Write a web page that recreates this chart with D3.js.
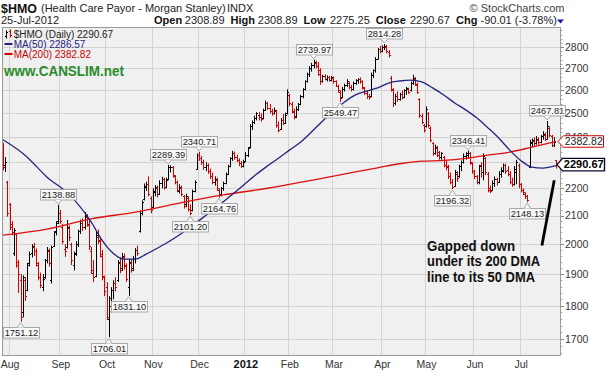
<!DOCTYPE html>
<html><head><meta charset="utf-8">
<script src="https://cdn.jsdelivr.net/npm/d3@7"></script>
<style>html,body{margin:0;padding:0;background:#fff;}svg{display:block;}</style>
</head><body><svg id="c" width="609" height="376"></svg>
<script>
// ---- Data (daily OHLC, 27-Jul-2011 .. 25-Jul-2012) ----
const opens = [
2370,2290,2225,2140,2070,1970,2035,1940,1880,1780,
1880,1850,1935,1970,1990,1975,1930,1890,1860,1890,
1945,1975,1880,1995,2045,2080,2110,2060,1985,1990,
2055,2000,1930,1970,2000,2045,2075,2060,2095,2065,
1975,1905,1895,2025,2010,1960,1890,1860,1760,1800,
1850,1870,1880,1935,1920,1955,1925,1860,1935,1920,
1950,1980,2045,2110,2160,2205,2215,2165,2130,2185,
2200,2180,2220,2235,2205,2235,2280,2280,2245,2225,
2190,2200,2170,2140,2165,2125,2120,2190,2275,2330,
2315,2300,2280,2290,2265,2245,2225,2230,2195,2180,
2200,2220,2255,2285,2315,2335,2320,2310,2295,2285,
2305,2330,2360,2445,2465,2480,2495,2485,2480,2515,
2545,2525,2510,2500,2510,2450,2435,2470,2460,2500,
2580,2540,2505,2490,2520,2540,2575,2605,2640,2675,
2700,2715,2725,2710,2690,2640,2665,2650,2660,2648,
2655,2640,2620,2595,2570,2605,2625,2635,2615,2605,
2635,2645,2650,2640,2610,2590,2575,2575,2670,2690,
2745,2790,2780,2800,2800,2775,2655,2600,2545,2575,
2560,2585,2570,2600,2605,2600,2635,2650,2625,2560,
2490,2450,2445,2500,2440,2375,2335,2355,2340,2320,
2320,2290,2285,2245,2225,2210,2255,2245,2285,2300,
2325,2330,2335,2295,2265,2245,2225,2290,2260,2315,
2255,2200,2195,2220,2235,2225,2255,2265,2290,2270,
2255,2225,2215,2260,2290,2215,2195,2180,2170,2280,
2375,2385,2375,2390,2380,2405,2410,2395,2440,2405,
2370,2308.89];
const highs = [
2378,2320,2228,2145,2080,2055,2038,1946,1900,1896,
1890,1937,1975,2000,2004,1985,1940,1905,1900,1950,
1990,1985,1995,2045,2080,2138.88,2120,2070,2000,2084,
2065,2004,1975,2010,2050,2085,2090,2113,2105,2085,
1990,1946,2043,2050,2025,1980,1895,1874,1830,1858,
1880,1890,1946,1956,1970,1968,1935,1950,1950,1960,
1986,1995,2118,2155,2218,2225,2245,2170,2200,2212,
2210,2230,2243,2240,2240,2289.39,2288,2285,2250,2230,
2215,2210,2175,2180,2170,2140,2195,2230,2335,2340.71,
2325,2310,2300,2295,2275,2260,2245,2240,2200,2205,
2225,2260,2290,2320,2345,2342,2330,2315,2305,2310,
2340,2360,2455,2470,2490,2505,2505,2500,2520,2555,
2550,2540,2520,2525,2515,2465,2480,2497,2503,2605,
2585,2550,2520,2530,2545,2580,2610,2645,2680,2710,
2725,2739.97,2735,2728,2700,2670,2672,2668,2665,2665,
2662,2645,2625,2600,2615,2630,2650,2640,2625,2640,
2650,2655,2658,2645,2615,2600,2585,2680,2695,2752,
2795,2805,2808,2814.28,2810,2785,2665,2610,2585,2595,
2590,2600,2605,2615,2612,2640,2670,2660,2635,2565,
2500,2455,2530,2505,2445,2380,2370,2365,2345,2340,
2325,2307,2290,2260,2235,2270,2265,2290,2307,2335,
2340,2346.41,2340,2300,2270,2250,2290,2300,2335,2320,
2262,2210,2230,2245,2240,2265,2280,2295,2295,2285,
2265,2240,2285,2310,2295,2220,2200,2185,2175,2390,
2395,2400,2405,2400,2410,2425,2420,2467.81,2445,2410,
2400,2308.89];
const lows = [
2268,2262,2096,2048,2030,1960,1921,1840,1751.12,1765,
1815,1845,1925,1955,1960,1925,1880,1855,1845,1885,
1935,1925,1870,1990,2030,2070,2070,2000,1957,1985,
2010,1930,1912,1960,1990,2035,2045,2050,2060,1980,
1900,1874,1890,2000,1955,1880,1830,1757,1706.01,1780,
1820,1845,1875,1903,1910,1915,1875,1831.10,1905,1910,
1935,1960,2040,2100,2155,2190,2170,2108,2125,2170,
2166,2175,2200,2195,2200,2230,2260,2240,2215,2185,
2180,2170,2125,2130,2115,2101.20,2115,2185,2270,2305,
2290,2270,2265,2255,2235,2215,2210,2190,2164.76,2170,
2190,2215,2250,2280,2305,2310,2300,2285,2277,2280,
2300,2320,2355,2430,2455,2470,2470,2465,2475,2510,
2515,2500,2490,2495,2440,2420,2430,2450,2455,2495,
2530,2500,2475,2480,2510,2535,2565,2600,2635,2660,
2685,2700,2700,2665,2625,2635,2645,2640,2640,2640,
2630,2615,2590,2549.47,2565,2595,2615,2605,2595,2600,
2625,2630,2630,2605,2580,2562,2560,2570,2655,2680,
2740,2770,2775,2785,2770,2750,2595,2527,2535,2550,
2555,2560,2565,2580,2585,2595,2625,2620,2585,2480,
2455,2420,2440,2440,2380,2325,2330,2320,2310,2310,
2280,2268,2235,2215,2196.32,2205,2225,2240,2265,2295,
2310,2315,2290,2255,2235,2215,2215,2240,2230,2250,
2185,2182,2190,2205,2210,2220,2240,2260,2255,2245,
2215,2205,2210,2215,2200,2185,2175,2160,2148.13,2277,
2360,2365,2370,2370,2375,2390,2385,2390,2400,2360,
2360,2275.25];
const closes = [
2280,2300,2110,2060,2040,2050,1930,1900,1765,1890,
1830,1930,1965,1995,1975,1935,1890,1865,1885,1945,
1980,1935,1990,2040,2075,2110,2080,2010,1975,2060,
2025,1945,1965,2000,2045,2075,2060,2100,2070,1995,
1915,1890,2030,2015,1965,1895,1845,1765,1825,1850,
1870,1860,1940,1915,1960,1930,1885,1940,1915,1950,
1980,1970,2110,2150,2210,2215,2180,2120,2190,2205,
2180,2220,2235,2205,2230,2280,2283,2250,2225,2195,
2205,2180,2135,2170,2125,2110,2190,2225,2330,2315,
2300,2280,2290,2265,2245,2225,2235,2200,2175,2200,
2220,2255,2285,2315,2335,2320,2310,2295,2285,2300,
2330,2355,2445,2465,2480,2500,2485,2475,2515,2545,
2525,2510,2500,2515,2450,2430,2470,2460,2495,2595,
2545,2510,2485,2520,2540,2575,2605,2640,2675,2700,
2715,2730,2710,2675,2640,2665,2650,2660,2648,2658,
2640,2620,2600,2565,2605,2625,2640,2615,2605,2635,
2645,2650,2640,2615,2590,2575,2570,2670,2690,2745,
2790,2780,2800,2805,2780,2760,2605,2545,2575,2560,
2585,2570,2600,2610,2595,2635,2655,2630,2595,2495,
2465,2430,2520,2450,2390,2335,2360,2330,2320,2335,
2290,2280,2245,2225,2205,2260,2240,2285,2300,2325,
2335,2338,2300,2265,2245,2225,2285,2260,2325,2260,
2195,2190,2220,2235,2225,2255,2270,2290,2265,2255,
2225,2215,2275,2300,2215,2195,2185,2170,2155,2380,
2390,2375,2395,2380,2405,2415,2395,2445,2410,2370,
2380.68,2290.67];

const ma50Idx = [0,10,20,30,40,45,50,55,60,65,70,75,80,85,90,95,100,105,110,115,120,125,130,135,140,145,150,155,160,165,170,175,180,185,190,195,200,205,210,215,220,225,230,235,240,245,251];
const ma50Val = [2390,2328,2242,2177,2077,2013,1969,1949,1949,1966,1986,2007,2031,2060,2088,2118,2150,2183,2218,2253,2285,2316,2348,2380,2422,2467,2510,2549,2580,2597,2611,2633,2642,2646,2638,2611,2580,2545,2515,2481,2440,2397,2348,2307,2281,2277,2286.57];
const ma200Idx = [0,20,40,60,80,100,120,140,160,170,180,190,200,210,220,230,240,251];
const ma200Val = [2031,2052,2088,2112,2145,2175,2200,2230,2262,2278,2294,2304,2307,2315,2328,2340,2360,2382.82];

// Month ticks (index of first trading day of each month)
const monthLabels = ["Aug","Sep","Oct","Nov","Dec","2012","Feb","Mar","Apr","May","Jun","Jul"];
const monthStartIdx = [3,26,47,68,89,110,130,150,172,192,214,235];
const yTicks = [1700,1800,1900,2000,2100,2200,2300,2400,2500,2600,2700,2800];

// Annotated highs (H) / lows (L)
const annIdx  = [8,25,48,57,75,85,89,98,141,153,173,204,211,238,247];
const annSide = ["L","H","L","L","H","L","H","L","H","L","H","L","H","L","H"];

const noteLines = ["Gapped down","under its 200 DMA","line to its 50 DMA"];

// ---- Layout ----
const L = 2, R = 561, T = 27.3, B = 356;
const FONT = "'Liberation Sans', Arial, sans-serif";
const n = closes.length;
const x = d3.scaleLinear().domain([0, n - 1]).range([3, 556]);
const y = d3.scaleLog().domain([1652.2, 2895.7]).range([B, T]);
const RED = "#d40000", NAVY = "#23237f";

const svg = d3.select("#c").style("font-family", FONT);

// plot background
svg.append("rect").attr("x", L).attr("y", T).attr("width", R - L).attr("height", B - T)
  .attr("fill", "#f0f0f0");

// grid
const g = svg.append("g").attr("stroke", "#d3d3d3").attr("stroke-width", 1);
g.selectAll("line.h").data(yTicks).join("line").attr("class","h")
  .attr("x1", L).attr("x2", R)
  .attr("y1", d => Math.round(y(d)) + 0.5).attr("y2", d => Math.round(y(d)) + 0.5);
g.selectAll("line.v").data(monthStartIdx).join("line").attr("class","v")
  .attr("y1", T).attr("y2", B)
  .attr("x1", d => Math.round(x(d) - 1.1) + 0.5).attr("x2", d => Math.round(x(d) - 1.1) + 0.5);

// OHLC bars
const bars = svg.append("g").attr("fill", "none").attr("stroke-width", 1);
d3.range(n).forEach(i => {
  const c = Math.round(x(i));
  const up = i > 0 && closes[i] >= closes[i - 1];
  const col = up ? "#000" : RED;
  const yh = y(highs[i]), yl = y(lows[i]);
  const yo = Math.round(y(opens[i])) + 0.5, yc = Math.round(y(closes[i])) + 0.5;
  bars.append("path")
    .attr("d", `M${c + 0.5},${yh.toFixed(1)}V${Math.max(yl, yh + 1).toFixed(1)}M${c - 1},${yo}H${c}M${c + 1},${yc}H${c + 2}`)
    .attr("stroke", col);
});

// moving averages
const line = d3.line().x(d => x(d[0])).y(d => y(d[1])).curve(d3.curveMonotoneX);
svg.append("path").datum(ma200Idx.map((d, k) => [d, ma200Val[k]]))
  .attr("d", line).attr("fill", "none").attr("stroke", "#dd1010").attr("stroke-width", 1.3);
svg.append("path").datum(ma50Idx.map((d, k) => [d, ma50Val[k]]))
  .attr("d", line).attr("fill", "none").attr("stroke", NAVY).attr("stroke-width", 1.3);

// plot border
svg.append("rect").attr("x", L + 0.5).attr("y", Math.round(T) + 0.5)
  .attr("width", R - L - 1).attr("height", Math.round(B - T) - 1)
  .attr("fill", "none").attr("stroke", "#9a9a9a");

// annotation callouts
const ann = svg.append("g").attr("font-size", 9.3);
annIdx.forEach((i, k) => {
  const isH = annSide[k] === "H";
  const v = isH ? highs[i] : lows[i];
  const cx = x(i), py = y(v);
  const txt = v.toFixed(2);
  const w = 36, h = 10.5;
  const by = isH ? py - 5.5 - h : py + 5.5;
  const gg = ann.append("g");
  gg.append("rect").attr("x", Math.round(cx - w / 2) + 0.5).attr("y", Math.round(by) + 0.5)
    .attr("width", w).attr("height", h).attr("fill", "#f9f9f9").attr("stroke", "#a8a8a8");
  const edge = isH ? Math.round(by) + 0.5 + h : Math.round(by) + 0.5;
  gg.append("path").attr("d", `M${cx - 3.5},${edge}L${cx},${isH ? py - 1 : py + 1}L${cx + 3.5},${edge}`)
    .attr("fill", "#f9f9f9").attr("stroke", "#a8a8a8");
  gg.append("text").attr("x", Math.round(cx - w / 2) + 0.5 + w / 2).attr("y", Math.round(by) + 8.9)
    .attr("text-anchor", "middle").attr("fill", "#222").text(txt);
});

// value tags on right (values used for hiding covered axis labels)
const tagVals = [ma200Val[ma200Val.length - 1], closes[n - 1]];

// right axis
const ax = svg.append("g").attr("font-size", 10.5).attr("fill", "#333");
yTicks.forEach(t => {
  const yy = Math.round(y(t)) + 0.5;
  ax.append("line").attr("x1", R).attr("x2", R + 3).attr("y1", yy).attr("y2", yy).attr("stroke", "#888");
  const hidden = tagVals.some(v => Math.abs(y(v) - y(t)) < 4);
  if (!hidden) ax.append("text").attr("x", 565).attr("y", y(t) + 3.8).text(t);
});
d3.range(1660, 2900, 20).forEach(t => {
  if (t % 100 === 0) return;
  const yy = Math.round(y(t)) + 0.5;
  ax.append("line").attr("x1", R).attr("x2", R + 1.5).attr("y1", yy).attr("y2", yy).attr("stroke", "#aaa");
});

// bottom axis
const bx = svg.append("g").attr("fill", "#333").attr("text-anchor", "middle");
monthStartIdx.forEach((d, k) => {
  const bold = monthLabels[k] === "2012";
  bx.append("text").attr("x", x(d) + 0.5).attr("y", 367.5)
    .attr("font-size", bold ? 11 : 10.5).attr("font-weight", bold ? "bold" : "normal")
    .attr("fill", bold ? "#111" : "#333").text(monthLabels[k]);
});

function tag(val, x0, x1, h, stroke, sw, bold) {
  const yc = y(val);
  const pts = [[x0, yc], [x0 + 5.5, yc - h / 2], [x1, yc - h / 2], [x1, yc + h / 2], [x0 + 5.5, yc + h / 2]];
  svg.append("polygon").attr("points", pts.map(p => p.join(",")).join(" "))
    .attr("fill", "#fff").attr("stroke", stroke).attr("stroke-width", sw);
  svg.append("text").attr("x", (x0 + 6 + x1) / 2).attr("y", yc + 3.8).attr("text-anchor", "middle")
    .attr("font-size", bold ? 11 : 10.5).attr("font-weight", bold ? "bold" : "normal")
    .attr("fill", bold ? "#000" : "#222").text(val.toFixed(2));
}
tag(tagVals[0], 558, 603.5, 11.5, "#d00000", 1, false);
tag(tagVals[1], 557, 604.5, 12.5, "#0a0a30", 1.4, true);

// header
const last = n - 1;
const chg = closes[last] - closes[last - 1];
const pct = chg / closes[last - 1] * 100;
svg.append("text").attr("x", 1).attr("y", 12.6).attr("font-size", 13).attr("font-weight", "bold")
  .attr("textLength", 36).attr("lengthAdjust", "spacingAndGlyphs").attr("fill", "#111").text("$HMO");
svg.append("text").attr("x", 41).attr("y", 12).attr("font-size", 11).attr("fill", "#222")
  .text("(Health Care Payor - Morgan Stanley)");
svg.append("text").attr("x", 227).attr("y", 12).attr("font-size", 11).attr("fill", "#222").text("INDX");
svg.append("text").attr("x", 564.5).attr("y", 12).attr("font-size", 11).attr("fill", "#444")
  .attr("text-anchor", "end").text("\u00A9 StockCharts.com");

const row2 = [
  [1, "25-Jul-2012", false], [154, "Open", true], [184.8, opens[last].toFixed(2), false],
  [230.5, "High", true], [257.8, highs[last].toFixed(2), false],
  [303.5, "Low", true], [330, lows[last].toFixed(2), false],
  [375.8, "Close", true], [410, closes[last].toFixed(2), false],
  [456, "Chg", true], [480.5, `${chg.toFixed(2)} (${pct.toFixed(2)}%)`, false]
];
row2.forEach(r => {
  svg.append("text").attr("x", r[0]).attr("y", 24).attr("font-size", 11)
    .attr("font-weight", r[2] ? "bold" : "normal").attr("fill", r[2] ? "#111" : "#222").text(r[1]);
});
svg.append("path").attr("d", "M557,19.5L564,19.5L560.5,23.5Z").attr("fill", "#1a1aa0");

// legend
const lg = svg.append("g").attr("font-size", 10);
lg.append("path").attr("d", "M6.5,30.5V38.5M5,36.5H6.5M6.5,32.5H8").attr("stroke", "#000").attr("fill", "none");
lg.append("path").attr("d", "M10.5,29.5V37.5M9,31.5H10.5M10.5,35.5H12").attr("stroke", RED).attr("fill", "none");
lg.append("text").attr("x", 13.7).attr("y", 37.5).attr("fill", "#222")
  .text(`$HMO (Daily) ${closes[last].toFixed(2)}`);
lg.append("line").attr("x1", 4.5).attr("x2", 12.5).attr("y1", 44).attr("y2", 44).attr("stroke", NAVY).attr("stroke-width", 2);
lg.append("text").attr("x", 13.7).attr("y", 47.5).attr("fill", NAVY)
  .text(`MA(50) ${ma50Val[ma50Val.length - 1].toFixed(2)}`);
lg.append("line").attr("x1", 4.5).attr("x2", 12.5).attr("y1", 54).attr("y2", 54).attr("stroke", "#d00000").attr("stroke-width", 2);
lg.append("text").attr("x", 13.7).attr("y", 57.5).attr("fill", "#cc0000")
  .text(`MA(200) ${ma200Val[ma200Val.length - 1].toFixed(2)}`);
svg.append("text").attr("x", 4).attr("y", 76).attr("font-size", 14).attr("font-weight", "bold")
  .attr("fill", "#2a8c2a").attr("textLength", 120).attr("lengthAdjust", "spacingAndGlyphs")
  .text("www.CANSLIM.net");

// note + arrow
const nx = x(192.5), ny = y(1978);
const widths = [88, 113, 108];
noteLines.forEach((t, k) => {
  svg.append("text").attr("x", nx).attr("y", ny + k * 15.8).attr("font-size", 14).attr("font-weight", "bold")
    .attr("fill", "#111").attr("textLength", widths[k]).attr("lengthAdjust", "spacingAndGlyphs").text(t);
});
svg.append("line").attr("x1", x(244.6)).attr("y1", y(1995)).attr("x2", x(250.2)).attr("y2", y(2230))
  .attr("stroke", "#000").attr("stroke-width", 2.8);
</script>
</body></html>
